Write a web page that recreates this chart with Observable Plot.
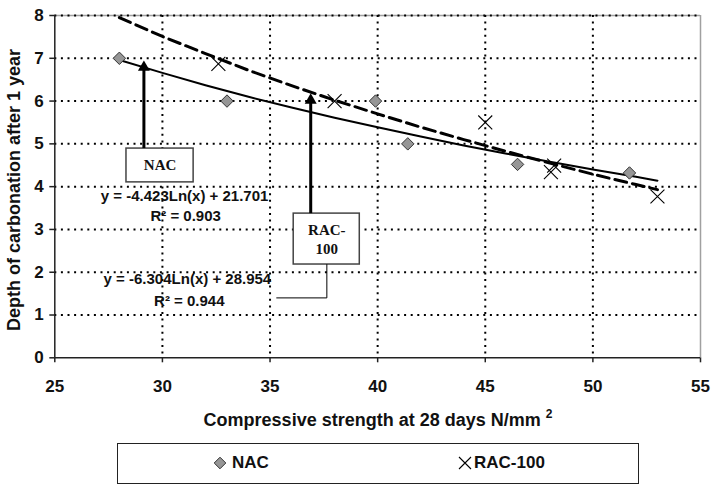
<!DOCTYPE html>
<html><head><meta charset="utf-8">
<script src="https://cdn.jsdelivr.net/npm/d3@7"></script>
<script src="https://cdn.jsdelivr.net/npm/@observablehq/plot@0.6"></script>
<style>
body{margin:0;background:#fff;font-family:"Liberation Sans",Arial,sans-serif;}
#wrap{position:relative;width:712px;height:486px;background:#fff;}
#wrap > svg{position:absolute;left:0;top:0;}
#legend{position:absolute;left:117px;top:443px;width:522px;height:41px;box-sizing:border-box;border:1.6px solid #222;background:#fff;}
#legend .item{position:absolute;top:0;height:38px;display:flex;align-items:center;font-weight:bold;font-size:17px;color:#111;}
#legend svg{margin-right:5px;}
</style></head><body><div id="wrap"></div>
<script>
// ---- data ----
const nacStrength = [28.0, 33.0, 39.9, 41.4, 46.5, 51.7];
const nacDepth    = [7.0, 6.0, 6.0, 5.0, 4.52, 4.32];
const racStrength = [32.6, 38.0, 45.0, 48.05, 48.2, 53.0];
const racDepth    = [6.87, 6.0, 5.5, 4.34, 4.49, 3.77];
// trend lines as drawn
const trendStrength = [28, 30, 32, 34, 36, 38, 40, 42, 44, 46, 48, 50, 52, 53];
const nacTrendDepth = [6.96, 6.66, 6.37, 6.10, 5.85, 5.61, 5.39, 5.17, 4.96, 4.77, 4.58, 4.40, 4.23, 4.14];
const racTrendDepth = [7.95, 7.51, 7.11, 6.72, 6.36, 6.02, 5.70, 5.39, 5.10, 4.82, 4.55, 4.29, 4.05, 3.93];
const xTicks = [25, 30, 35, 40, 45, 50, 55];
const yTicks = [0, 1, 2, 3, 4, 5, 6, 7, 8];
const seriesNames = ["NAC", "RAC-100"];
const equations = ["y = -4.423Ln(x) + 21.701", "R² = 0.903", "y = -6.304Ln(x) + 28.954", "R² = 0.944"];

// annotation anchors (data coordinates)
const noteBoxes = [
  {x1: 28.33, x2: 31.45, y1: 4.10, y2: 4.89},
  {x1: 36.10, x2: 39.17, y1: 2.18, y2: 3.37}
];
const noteLabels = [
  {x: 29.89, y: 4.49, t: "NAC"},
  {x: 37.64, y: 2.98, t: "RAC-"},
  {x: 37.64, y: 2.55, t: "100"}
];
const arrows = [
  {x: 29.14, y1: 4.89, y2: 6.95},
  {x: 36.89, y1: 3.37, y2: 6.18}
];
const leader = [{x: 37.64, y: 2.18}, {x: 37.64, y: 1.40}, {x: 35.31, y: 1.40}];
const eqPos = [{x: 31.03, y: 3.77}, {x: 31.08, y: 3.30}, {x: 31.16, y: 1.83}, {x: 31.25, y: 1.32}];

const nac = nacStrength.map((x, i) => ({x, y: nacDepth[i]}));
const rac = racStrength.map((x, i) => ({x, y: racDepth[i]}));
const nacTrend = trendStrength.map((x, i) => ({x, y: nacTrendDepth[i]}));
const racTrend = trendStrength.map((x, i) => ({x, y: racTrendDepth[i]}));
const eqs = equations.map((t, i) => ({...eqPos[i], t}));

const yPx = 42.8; // approx px per unit, used only for small offsets

const chart = Plot.plot({
  width: 712, height: 440,
  marginLeft: 54.3, marginRight: 12, marginTop: 15, marginBottom: 82.7,
  style: {fontFamily: '"Liberation Sans", Arial, sans-serif', background: "#fff", overflow: "visible", color: "#222"},
  x: {domain: [25, 55], ticks: xTicks, tickSize: 5, tickFormat: () => "", label: null},
  y: {domain: [0, 8], ticks: yTicks, tickSize: 5, tickFormat: () => "", label: null},
  marks: [
    Plot.ruleY([8], {stroke: "#a0a0a0", strokeWidth: 1.5}),
    Plot.ruleX([55], {stroke: "#a0a0a0", strokeWidth: 1.5}),
    Plot.ruleX(xTicks.slice(1, -1), {stroke: "#000", strokeWidth: 2, strokeDasharray: "2,4.6"}),
    Plot.ruleY(yTicks.slice(1), {stroke: "#000", strokeWidth: 2, strokeDasharray: "2,4.6"}),
    Plot.ruleX([25], {stroke: "#222", strokeWidth: 1.5}),
    Plot.ruleY([0], {stroke: "#222", strokeWidth: 1.5}),
    // tick labels
    Plot.text(xTicks, {x: d => d, frameAnchor: "bottom", lineAnchor: "top", dy: 22, text: d => String(d), fontSize: 17, fontWeight: "bold", fill: "#111"}),
    Plot.text(yTicks, {y: d => d, frameAnchor: "left", textAnchor: "end", dx: -11, text: d => String(d), fontSize: 17, fontWeight: "bold", fill: "#111"}),
    Plot.line(nacTrend, {x: "x", y: "y", stroke: "#000", strokeWidth: 2, curve: "linear"}),
    Plot.line(racTrend, {x: "x", y: "y", stroke: "#000", strokeWidth: 3, strokeDasharray: "12,6"}),
    Plot.dot(nac, {x: "x", y: "y", symbol: "diamond2", r: 5.6, fill: "#969696", stroke: "#333", strokeWidth: 1}),
    Plot.dot(rac, {x: "x", y: "y", symbol: "times", r: 6.4, stroke: "#000", strokeWidth: 1.1}),
    Plot.rect(noteBoxes, {x1: "x1", x2: "x2", y1: "y1", y2: "y2", fill: "#fff", stroke: "#444", strokeWidth: 1.5}),
    Plot.ruleX(arrows, {x: "x", y1: "y1", y2: d => d.y2 - 7 / yPx, stroke: "#000", strokeWidth: 3}),
    Plot.dot(arrows, {x: "x", y: "y2", symbol: "triangle", r: 4.45, fill: "#000", stroke: null, dy: 6.9}),
    Plot.line(leader, {x: "x", y: "y", stroke: "#000", strokeWidth: 1}),
    Plot.text(noteLabels, {x: "x", y: "y", text: "t", fontFamily: '"Liberation Serif", "Times New Roman", serif', fontWeight: "bold", fontSize: 15, fill: "#111"}),
    Plot.text(eqs, {x: "x", y: "y", text: "t", fontWeight: "bold", fontSize: 15, fill: "#111"})
  ]
});
const wrap = document.getElementById("wrap");
wrap.appendChild(chart);

const svg = d3.select(chart);
svg.selectAll("g[aria-label*='axis'] path, g[aria-label*='axis'] line")
  .style("stroke-width", "1.5px");

// axis titles
const xt = svg.append("text").attr("x", 378).attr("y", 426).attr("text-anchor", "middle")
  .style("font-size", "18px").style("font-weight", "bold").attr("fill", "#111");
xt.append("tspan").text("Compressive strength at 28 days N/mm ");
xt.append("tspan").style("font-size", "12px").attr("dy", -8).text("2");
svg.append("text").attr("transform", "translate(20,190) rotate(-90)").attr("text-anchor", "middle")
  .style("font-size", "18px").style("font-weight", "bold").attr("fill", "#111")
  .text("Depth of carbonation after 1 year");

// legend
const legend = document.createElement("div");
legend.id = "legend";
legend.innerHTML =
  `<div class="item" style="left:95px"><svg width="14" height="14" viewBox="-7 -7 14 14"><path d="M0,-5.8L5.8,0L0,5.8L-5.8,0Z" fill="#969696" stroke="#333" stroke-width="1"/></svg><span>${seriesNames[0]}</span></div>` +
  `<div class="item" style="left:340px"><svg width="14" height="14" viewBox="-7 -7 14 14" style="margin-right:2px"><path d="M-6,-6L6,6M-6,6L6,-6" stroke="#000" stroke-width="1.1"/></svg><span>${seriesNames[1]}</span></div>`;
wrap.appendChild(legend);
</script>
</body></html>
